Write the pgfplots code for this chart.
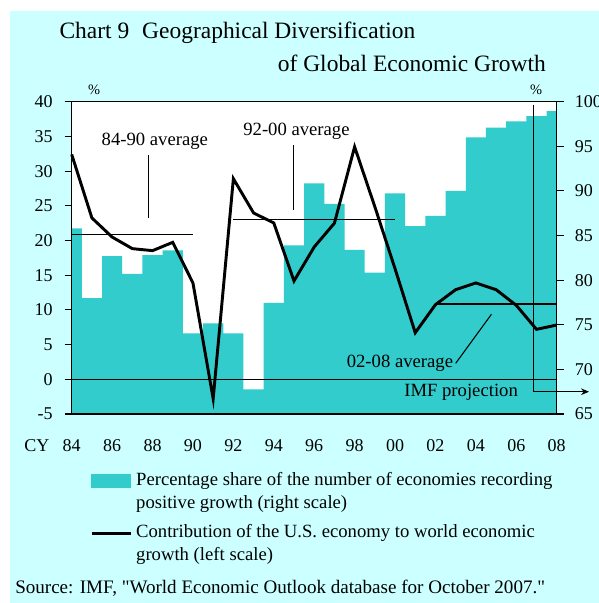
\documentclass[border=0pt]{standalone}
\usepackage{pgfplots}
\pgfplotsset{compat=1.18}
\usepackage{fontspec}
\setmainfont{Liberation Serif}[Ligatures=TeXOff]
\usetikzlibrary{arrows.meta}
\definecolor{bgcyan}{RGB}{204,255,255}
\definecolor{barcol}{RGB}{51,204,204}
\newcommand\tfont{\fontsize{13.5}{16}\selectfont}
\newcommand\lfont{\fontsize{14}{17.25}\selectfont}
\newcommand\ttlfont{\fontsize{17.6}{20}\selectfont}
\begin{document}
\begin{tikzpicture}[x=0.75pt,y=0.75pt]
\path[use as bounding box] (0,0) rectangle (599,603);
\fill[bgcyan] (9.5,0) rectangle (599,592.3);
% ---- bars, right scale
\begin{axis}[
  at={(53.78pt,141.75pt)}, anchor=south west,
  width=363.75pt, height=234.2pt, scale only axis,
  xmin=84, xmax=108, ymin=65, ymax=100,
  axis y line*=right,
  axis background/.style={fill=white},
  axis on top,
  ybar, bar width=1,
  xtick=\empty,
  ytick={65,70,...,100},
  tick align=outside, major tick length=5.25pt,
  yticklabel style={font=\tfont, xshift=4.8pt},
  /pgf/number format/assume math mode=true,
  axis line style={line width=0.8pt},
  tick style={line width=0.8pt, black},
]
\addplot[fill=barcol, draw=none] coordinates {
 (84,85.8) (85,78.0) (86,82.7) (87,80.7) (88,82.8) (89,83.35) (90,74.05)
 (91,75.15) (92,74.05) (93,67.75) (94,77.45) (95,83.9) (96,90.85) (97,88.55)
 (98,83.4) (99,80.85) (100,89.73) (101,86.07) (102,87.2) (103,90.0) (104,96.0)
 (105,97.1) (106,97.8) (107,98.4) (108,98.95)};
\end{axis}
% ---- line, left scale
\begin{axis}[
  at={(53.78pt,141.75pt)}, anchor=south west,
  width=363.75pt, height=234.2pt, scale only axis,
  xmin=84, xmax=108, ymin=-5, ymax=40,
  axis y line*=left,
  clip=false,
  xtick={84,86,...,108},
  xticklabels={84,86,88,90,92,94,96,98,00,02,04,06,08},
  xtick style={draw=none},
  ytick={-5,0,...,40},
  tick align=outside, major tick length=5.25pt,
  ticklabel style={font=\tfont},
  yticklabel style={xshift=-5.5pt},
  xticklabel style={anchor=base, yshift=-22.75pt},
  /pgf/number format/assume math mode=true,
  axis line style={line width=0.8pt},
  tick style={line width=0.8pt, black},
  legend style={draw=none, fill=none, inner sep=0pt,
    at={(axis description cs:0.0377,-0.177)}, anchor=north west,
    cells={anchor=base west}, nodes={inner sep=0pt, font=\lfont, text depth=},
    column sep=3.2pt, row sep=4.5pt},
]
\addlegendimage{legend image code/.code={\fill[barcol] (0pt,-1.3pt) rectangle (29.25pt,8.7pt);}}
\addlegendentry{\begin{tabular}[t]{@{}l@{}}Percentage share of the number of economies recording\\positive growth (right scale)\end{tabular}}
\addlegendimage{legend image code/.code={\draw[line width=2pt] (0pt,3pt) -- (29.25pt,3pt);}}
\addlegendentry{\begin{tabular}[t]{@{}l@{}}Contribution of the U.S. economy to world economic\\growth (left scale)\end{tabular}}
% zero line
\addplot[line width=0.8pt, forget plot] coordinates {(84,0) (108,0)};
% averages
\addplot[line width=0.8pt, forget plot] coordinates {(84,20.9) (90,20.9)};
\addplot[line width=0.8pt, forget plot] coordinates {(92,23.0) (100,23.0)};
\addplot[line width=0.8pt, forget plot] coordinates {(102,10.85) (108,10.85)};
% annotation leaders
\addplot[line width=0.8pt, forget plot] coordinates {(87.81,32.3) (87.81,23.3)};
\addplot[line width=0.8pt, forget plot] coordinates {(94.99,33.76) (94.99,24.4)};
\addplot[line width=0.8pt, forget plot] coordinates {(103.0,2.3) (104.77,9.37)};
% IMF projection marker
\addplot[line width=0.8pt, forget plot, -{Stealth[length=6pt,width=5pt]}] coordinates {(106.83,39.6) (106.83,-1.79) (109.6,-1.79)};
% US contribution
\addplot[line width=2.2pt, forget plot] coordinates {
 (84,32.4) (85,23.25) (86,20.5) (87,18.83) (88,18.54) (89,19.74) (90,13.88)
 (91,-2.79) (92,28.91) (93,23.97) (94,22.53) (95,14.17) (96,19.07) (97,22.5)
 (98,33.5) (99,24.87) (100,15.94) (101,6.71) (102,10.76) (103,12.92) (104,13.88)
 (105,12.92) (106,10.66) (107,7.2) (108,7.82)};
\node[anchor=base west, inner sep=0pt, font=\lfont] at (axis cs:85.47,33.76) {84-90 average};
\node[anchor=base west, inner sep=0pt, font=\lfont] at (axis cs:92.48,35.2) {92-00 average};
\node[anchor=base west, inner sep=0pt, font=\lfont] at (axis cs:97.6,1.73) {02-08 average};
\node[anchor=base east, inner sep=0pt, font=\lfont] at (axis cs:106.09,-2.51) {IMF projection};
\end{axis}
% titles and labels
\node[anchor=base west, inner sep=0pt, font=\ttlfont] at (59.3,564.7) {Chart 9\hspace{0.55em}Geographical Diversification};
\node[anchor=base east, inner sep=0pt, font=\ttlfont] at (546,531.3) {of Global Economic Growth};
\node[anchor=base, inner sep=0pt, font=\fontsize{10.8}{12}\selectfont] at (94,508) {\%};
\node[anchor=base, inner sep=0pt, font=\fontsize{10.8}{12}\selectfont] at (536,508) {\%};
\node[anchor=base west, inner sep=0pt, font=\tfont] at (24,151.3) {CY};
\node[anchor=base west, inner sep=0pt, font=\fontsize{14.3}{17}\selectfont] at (15,9) {Source: IMF, "World Economic Outlook database for October 2007."};
\end{tikzpicture}
\end{document}
